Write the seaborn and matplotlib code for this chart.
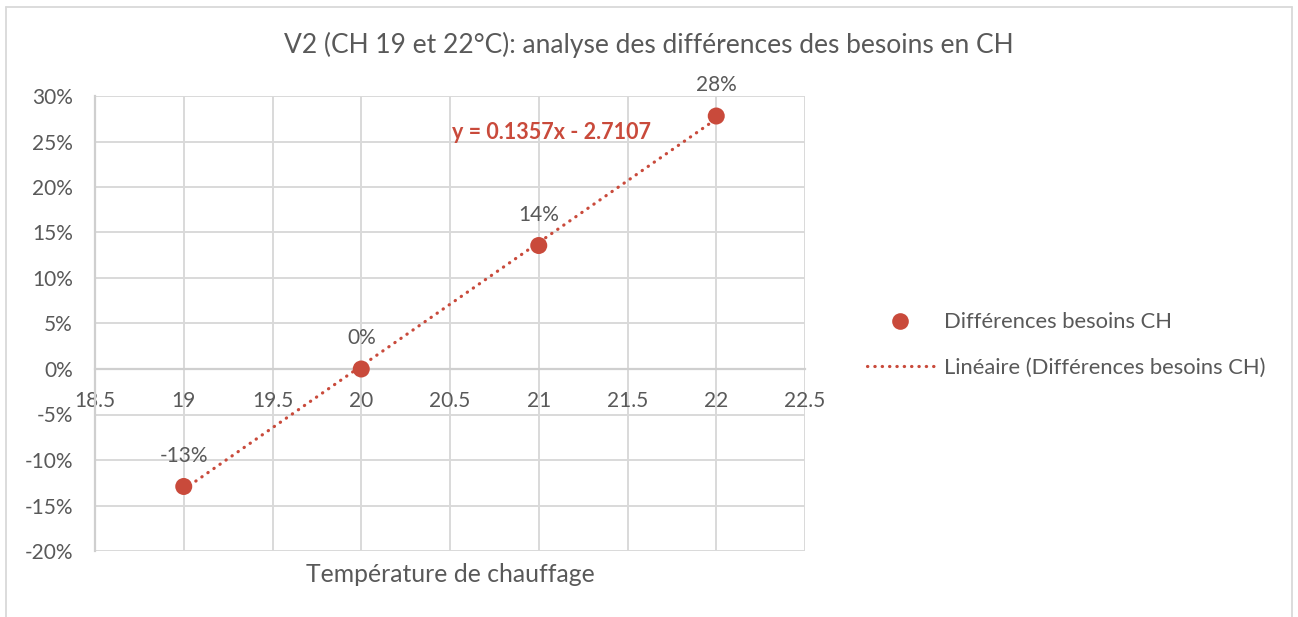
import numpy as np
import pandas as pd
import matplotlib
matplotlib.use("Agg")
import matplotlib.pyplot as plt
from matplotlib.lines import Line2D
from matplotlib.ticker import FuncFormatter, MultipleLocator
import seaborn as sns

# ---- data ----
temperatures = [19, 20, 21, 22]
differences = [-0.1291, 0.0, 0.1357, 0.278]
data_labels = ["-13%", "0%", "14%", "28%"]
title_text = "V2 (CH 19 et 22°C): analyse des différences des besoins en CH"
x_label = "Température de chauffage"
series_name = "Différences besoins CH"
trend_name = "Linéaire (Différences besoins CH)"

sns.set_theme(style="white")
plt.rcParams['font.family'] = ['Lato', 'DejaVu Sans']

RED = "#c94a3b"
GRAY_TXT = "#595959"
GRID = "#d9d9d9"

df = pd.DataFrame({"T": temperatures, "D": differences})

fig = plt.figure(figsize=(12.98, 6.17), dpi=100)
W, H = 1298, 617
ax = fig.add_axes([95 / W, 1 - 551 / H, (805 - 95) / W, (551 - 96) / H])

# trend line
slope, intercept = np.polyfit(df["T"], df["D"], 1)
tx = np.array([min(temperatures), max(temperatures)])
trend_df = pd.DataFrame({"T": tx, "D": slope * tx + intercept})
sns.lineplot(data=trend_df, x="T", y="D", ax=ax, color=RED, lw=2.3,
             linestyle=(0, (0.1, 2.2)), dash_capstyle="round", zorder=3)

sns.scatterplot(data=df, x="T", y="D", ax=ax, color=RED, s=150,
                edgecolor="none", zorder=4)

for x, y, lab in zip(temperatures, differences, data_labels):
    ax.annotate(lab, (x, y), xytext=(0, 22), textcoords="offset points",
                ha="center", va="center", fontsize=15, color=GRAY_TXT)

sign = "-" if intercept < 0 else "+"
ax.text(20.51, 0.26, f"y = {slope:.4f}x {sign} {abs(intercept):.4f}",
        color=RED, fontsize=15.5, fontweight="bold", ha="left", va="center")

ax.set_xlim(18.5, 22.5)
ax.set_ylim(-0.20, 0.30)
ax.xaxis.set_major_locator(MultipleLocator(0.5))
ax.yaxis.set_major_locator(MultipleLocator(0.05))
ax.yaxis.set_major_formatter(FuncFormatter(lambda v, p: f"{v*100:.0f}%"))
ax.xaxis.set_major_formatter(FuncFormatter(lambda v, p: f"{v:g}"))

ax.grid(True, color=GRID, lw=1.4)
ax.set_axisbelow(True)
for s in ["top", "right"]:
    ax.spines[s].set_visible(False)
ax.spines["left"].set_color("#cfcfcf")
ax.spines["left"].set_linewidth(1.6)
ax.spines["bottom"].set_position(("data", 0))
ax.spines["bottom"].set_color("#cfcfcf")
ax.spines["bottom"].set_linewidth(1.6)
ax.tick_params(axis="both", length=0, labelsize=15, colors=GRAY_TXT)
ax.tick_params(axis="y", pad=16)
ax.tick_params(axis="x", pad=16)

ax.set_xlabel("")
ax.set_ylabel("")
fig.text(450 / W, 1 - 575 / H, x_label, ha="center", va="center",
         fontsize=17.8, color=GRAY_TXT)
fig.text(0.5, 1 - 45 / H, title_text, ha="center", va="center",
         fontsize=19, color=GRAY_TXT)

handles = [
    Line2D([], [], marker="o", color=RED, linestyle="none", markersize=12,
           markeredgewidth=0),
    Line2D([], [], color=RED, lw=2.3, linestyle=(0, (0.1, 2.2)),
           dash_capstyle="round"),
]
leg = fig.legend(handles, [series_name, trend_name], loc="center left",
                 bbox_to_anchor=(867 / W, 1 - 345 / H), frameon=False,
                 fontsize=15.8, handlelength=3.05, handletextpad=0.45,
                 labelspacing=1.15, borderpad=0, borderaxespad=0)
for t in leg.get_texts():
    t.set_color(GRAY_TXT)

# chart border
bx0, by0, bx1 = 6 / W, 1 - 7 / H, 1292 / W
for xs, ys in [([bx0, bx0], [by0, -0.02]), ([bx0, bx1], [by0, by0]),
               ([bx1, bx1], [by0, -0.02])]:
    fig.add_artist(Line2D(xs, ys, transform=fig.transFigure, color=GRID,
                          lw=1.3, clip_on=False))

fig.savefig("out.png", dpi=100, facecolor="white")
